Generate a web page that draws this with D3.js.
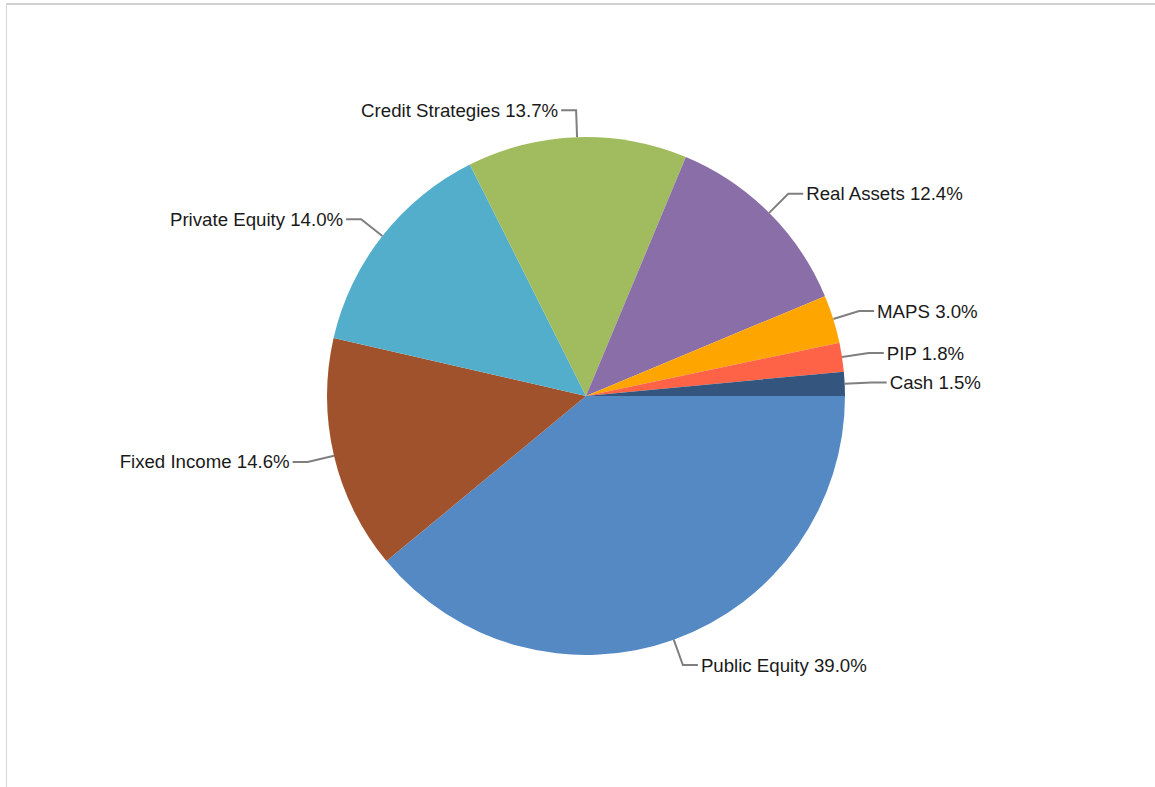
<!DOCTYPE html>
<html>
<head>
<meta charset="utf-8">
<script src="https://cdn.jsdelivr.net/npm/d3@7/dist/d3.min.js"></script>
<style>
  html, body { margin: 0; padding: 0; background: #fff; }
  svg { display: block; }
</style>
</head>
<body>
<svg id="chart" width="1155" height="787"></svg>
<script>
// Asset allocation, listed clockwise from the 3 o'clock position
const categories = ["Public Equity", "Fixed Income", "Private Equity", "Credit Strategies",
                    "Real Assets", "MAPS", "PIP", "Cash"];
const shares = [39.0, 14.6, 14.0, 13.7, 12.4, 3.0, 1.8, 1.5];
const sliceColors = ["#5589c4", "#a0522d", "#52aeca", "#a1bc5e",
                     "#8a6ea8", "#ffa500", "#ff6347", "#34557e"];

const svg = d3.select("#chart");
const W = 1155, H = 787;

// Panel frame: top and left rules
svg.append("line").attr("x1", 6).attr("x2", W).attr("y1", 4).attr("y2", 4)
  .attr("stroke", "#d0d0d0").attr("stroke-width", 2);
svg.append("line").attr("x1", 6.5).attr("x2", 6.5).attr("y1", 3).attr("y2", H)
  .attr("stroke", "#d6d6d6").attr("stroke-width", 1);

const cx = 586, cy = 396, R = 259;
const elbowR = 286, tail = 15, gap = 3;

const data = categories.map((c, i) => ({ name: c, value: shares[i], color: sliceColors[i] }));

const pie = d3.pie()
  .value(d => d.value)
  .sort(null)
  .startAngle(Math.PI / 2)
  .endAngle(Math.PI / 2 + 2 * Math.PI);

const arc = d3.arc().innerRadius(0).outerRadius(R);
const arcs = pie(data);

const g = svg.append("g").attr("transform", `translate(${cx},${cy})`);

g.selectAll("path.slice")
  .data(arcs)
  .join("path")
  .attr("class", "slice")
  .attr("d", arc)
  .attr("fill", d => d.data.color);

// Leader lines and labels
const pt = (a, r) => [r * Math.sin(a), -r * Math.cos(a)];

arcs.forEach(d => {
  const mid = (d.startAngle + d.endAngle) / 2;
  const p0 = pt(mid, R);
  const p1 = pt(mid, elbowR);
  const right = Math.sin(mid) >= 0;
  const p2 = [p1[0] + (right ? tail : -tail), p1[1]];

  g.append("polyline")
    .attr("points", [p0, p1, p2].map(p => p.join(",")).join(" "))
    .attr("fill", "none")
    .attr("stroke", "#7f7f7f")
    .attr("stroke-width", 2);

  g.append("text")
    .attr("x", p2[0] + (right ? gap : -gap))
    .attr("y", p2[1])
    .attr("dy", "0.35em")
    .attr("text-anchor", right ? "start" : "end")
    .attr("font-family", "'Liberation Sans', Arial, sans-serif")
    .attr("font-size", 18.67)
    .attr("fill", "#1a1a1a")
    .text(`${d.data.name} ${d.data.value.toFixed(1)}%`);
});
</script>
</body>
</html>
